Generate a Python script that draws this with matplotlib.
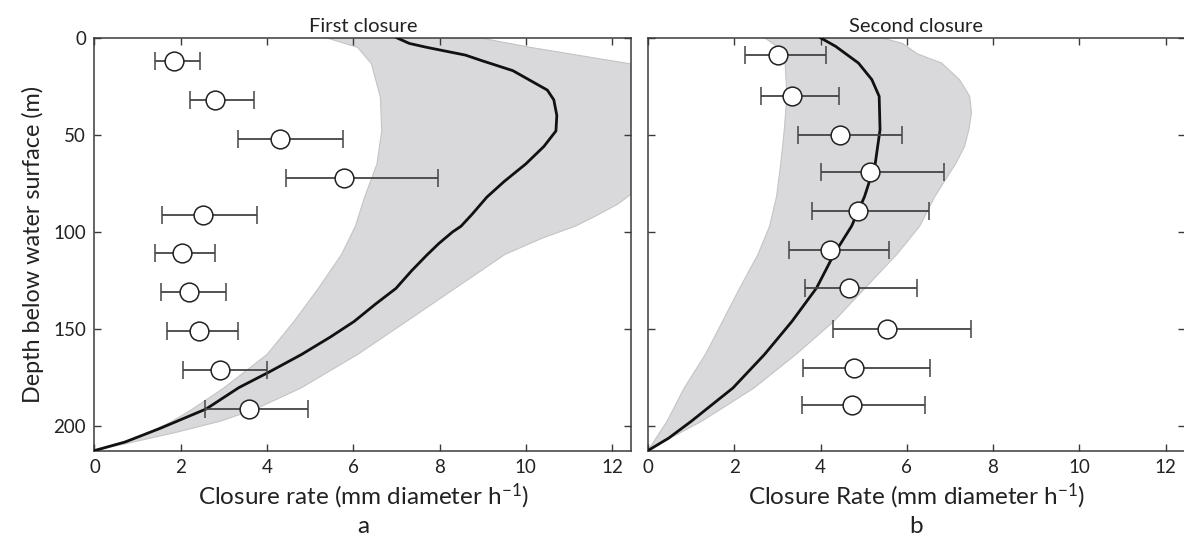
import matplotlib
matplotlib.use("Agg")
import matplotlib.pyplot as plt
import numpy as np

plt.rcParams['font.family'] = ['Lato', 'DejaVu Sans']
plt.rcParams['mathtext.fontset'] = 'custom'
plt.rcParams['mathtext.rm'] = 'Lato'
plt.rcParams['mathtext.it'] = 'Lato:italic'

# ---- First closure: observations (depth, rate, error range) ----
depth_a = [12, 32, 52, 72, 91, 111, 131, 151, 171, 191]
rate_a = [1.85, 2.79, 4.30, 5.79, 2.51, 2.04, 2.20, 2.43, 2.90, 3.58]
lo_a = [1.41, 2.22, 3.32, 4.45, 1.57, 1.41, 1.55, 1.69, 2.06, 2.57]
hi_a = [2.45, 3.69, 5.77, 7.96, 3.76, 2.79, 3.05, 3.32, 3.99, 4.94]

# model mean profile
model_depth_a = [0, 3, 5, 9, 12, 17, 22, 27, 32, 40, 48, 56, 65, 74, 82, 91, 97, 100,
                 106, 112, 120, 129, 137, 146, 154, 163, 172, 180, 191, 201, 208, 212.4]
model_rate_a = [7.0, 7.3, 7.7, 8.6, 9.0, 9.7, 10.1, 10.5, 10.65, 10.72, 10.7, 10.42, 10.0,
                9.5, 9.1, 8.75, 8.5, 8.3, 7.98, 7.7, 7.35, 6.99, 6.52, 6.02, 5.47,
                4.8, 4.05, 3.35, 2.59, 1.52, 0.71, 0.0]

# model envelope
band_lo_depth_a = [0, 5, 13.4, 30.8, 48, 65, 82.3, 97, 111.5, 128.7, 145.9, 163, 180.2,
                   191.4, 197.4, 206, 212.4]
band_lo_rate_a = [5.36, 6.1, 6.42, 6.63, 6.66, 6.55, 6.26, 6.05, 5.73, 5.2, 4.63, 4.0,
                  3.0, 2.25, 1.8, 1.0, 0.0]
band_hi_depth_a = [0, 5, 13.6, 20, 40, 60, 75, 80.4, 85.7, 92, 97, 103, 111.5, 128.7,
                   145.9, 163, 180.2, 191.4, 197.4, 203, 208, 212.4]
band_hi_rate_a = [8.9, 10.1, 12.45, 13.5, 14.5, 14.2, 13.2, 12.45, 12.13, 11.6, 11.15,
                  10.4, 9.52, 8.38, 7.24, 6.1, 4.79, 3.7, 2.9, 1.9, 0.9, 0.0]

# ---- Second closure ----
depth_b = [9, 30, 50, 69, 89, 109, 129, 150, 170, 189]
rate_b = [3.02, 3.34, 4.45, 5.14, 4.88, 4.21, 4.66, 5.55, 4.78, 4.72]
lo_b = [2.25, 2.62, 3.48, 4.00, 3.80, 3.28, 3.64, 4.29, 3.59, 3.57]
hi_b = [4.13, 4.43, 5.90, 6.87, 6.51, 5.59, 6.23, 7.48, 6.53, 6.43]

model_depth_b = [0, 4.5, 13.1, 21.6, 30.2, 47.4, 64.6, 81.8, 97, 111.5, 128.7, 145.9,
                 163, 180.2, 197.4, 206, 212.4]
model_rate_b = [3.99, 4.35, 4.88, 5.19, 5.36, 5.38, 5.27, 5.02, 4.72, 4.31, 3.91, 3.34,
                2.70, 1.97, 1.0, 0.48, 0.0]

band_lo_depth_b = [0, 4.5, 13.1, 30.2, 47.4, 64.6, 81.8, 97, 111.5, 128.7, 145.9, 163,
                   180.2, 197.4, 212.4]
band_lo_rate_b = [2.70, 2.98, 3.18, 3.22, 3.16, 3.08, 2.98, 2.82, 2.55, 2.13, 1.73, 1.33,
                  0.84, 0.44, 0.0]
band_hi_depth_b = [0, 3, 8.4, 13.1, 21.6, 30.2, 38.8, 47.4, 56, 64.6, 81.8, 97, 111.5,
                   128.7, 145.9, 163, 180.2, 197.4, 206, 212.4]
band_hi_rate_b = [5.4, 5.9, 6.25, 6.81, 7.22, 7.46, 7.5, 7.44, 7.34, 7.14, 6.65, 6.3,
                  5.77, 5.04, 4.31, 3.43, 2.46, 1.24, 0.51, 0.0]

x_ticks = [0, 2, 4, 6, 8, 10, 12]
y_ticks = [0, 50, 100, 150, 200]

panels = [
    dict(title="First closure", xlabel="Closure rate (mm diameter h$^{-1}$)", tag="a",
         depth=depth_a, rate=rate_a, lo=lo_a, hi=hi_a,
         md=model_depth_a, mr=model_rate_a,
         bld=band_lo_depth_a, blr=band_lo_rate_a, bhd=band_hi_depth_a, bhr=band_hi_rate_a),
    dict(title="Second closure", xlabel="Closure Rate (mm diameter h$^{-1}$)", tag="b",
         depth=depth_b, rate=rate_b, lo=lo_b, hi=hi_b,
         md=model_depth_b, mr=model_rate_b,
         bld=band_lo_depth_b, blr=band_lo_rate_b, bhd=band_hi_depth_b, bhr=band_hi_rate_b),
]

fig = plt.figure(figsize=(11.84, 5.37), dpi=100)
axes = [fig.add_axes([0.0798, 0.161, 0.4535, 0.769]),
        fig.add_axes([0.5473, 0.161, 0.4535, 0.769])]

txt_col = "#222222"
spine_col = "#3a3a3a"
for ax, p in zip(axes, panels):
    # envelope polygon: lower edge downwards, upper edge back up
    poly_x = list(p["blr"]) + list(p["bhr"])[::-1]
    poly_y = list(p["bld"]) + list(p["bhd"])[::-1]
    ax.fill(poly_x, poly_y, facecolor="#d9d9db", edgecolor="#c4c4c6", lw=0.8, zorder=1)
    ax.plot(p["mr"], p["md"], color="#111111", lw=2.0, zorder=3,
            solid_joinstyle="round", solid_capstyle="round")
    r = np.array(p["rate"])
    xerr = [r - np.array(p["lo"]), np.array(p["hi"]) - r]
    ax.errorbar(r, p["depth"], xerr=xerr, fmt="o", ms=13.5, mfc="white", mec="#222222",
                mew=1.1, ecolor="#444444", elinewidth=1.3, capsize=6.5, capthick=1.3,
                zorder=4)

    ax.set_xlim(0, 12.45)
    ax.set_ylim(212.4, 0)
    ax.set_xticks(x_ticks)
    ax.set_yticks(y_ticks)
    ax.tick_params(direction="in", top=True, right=True, length=5, width=1.0,
                   colors=spine_col, labelcolor=txt_col, labelsize=13.5, pad=6)
    for s in ax.spines.values():
        s.set_color(spine_col)
        s.set_linewidth(1.1)
    ax.set_title(p["title"], fontsize=14.5, color=txt_col, pad=4)
    ax.set_xlabel(p["xlabel"] + "\n" + p["tag"], fontsize=17.5, color=txt_col,
                  labelpad=4, linespacing=1.3)

axes[0].set_ylabel("Depth below water surface (m)", fontsize=16.8, color=txt_col,
                   labelpad=7)
axes[1].set_yticklabels([])

fig.savefig("out.png", dpi=100)
